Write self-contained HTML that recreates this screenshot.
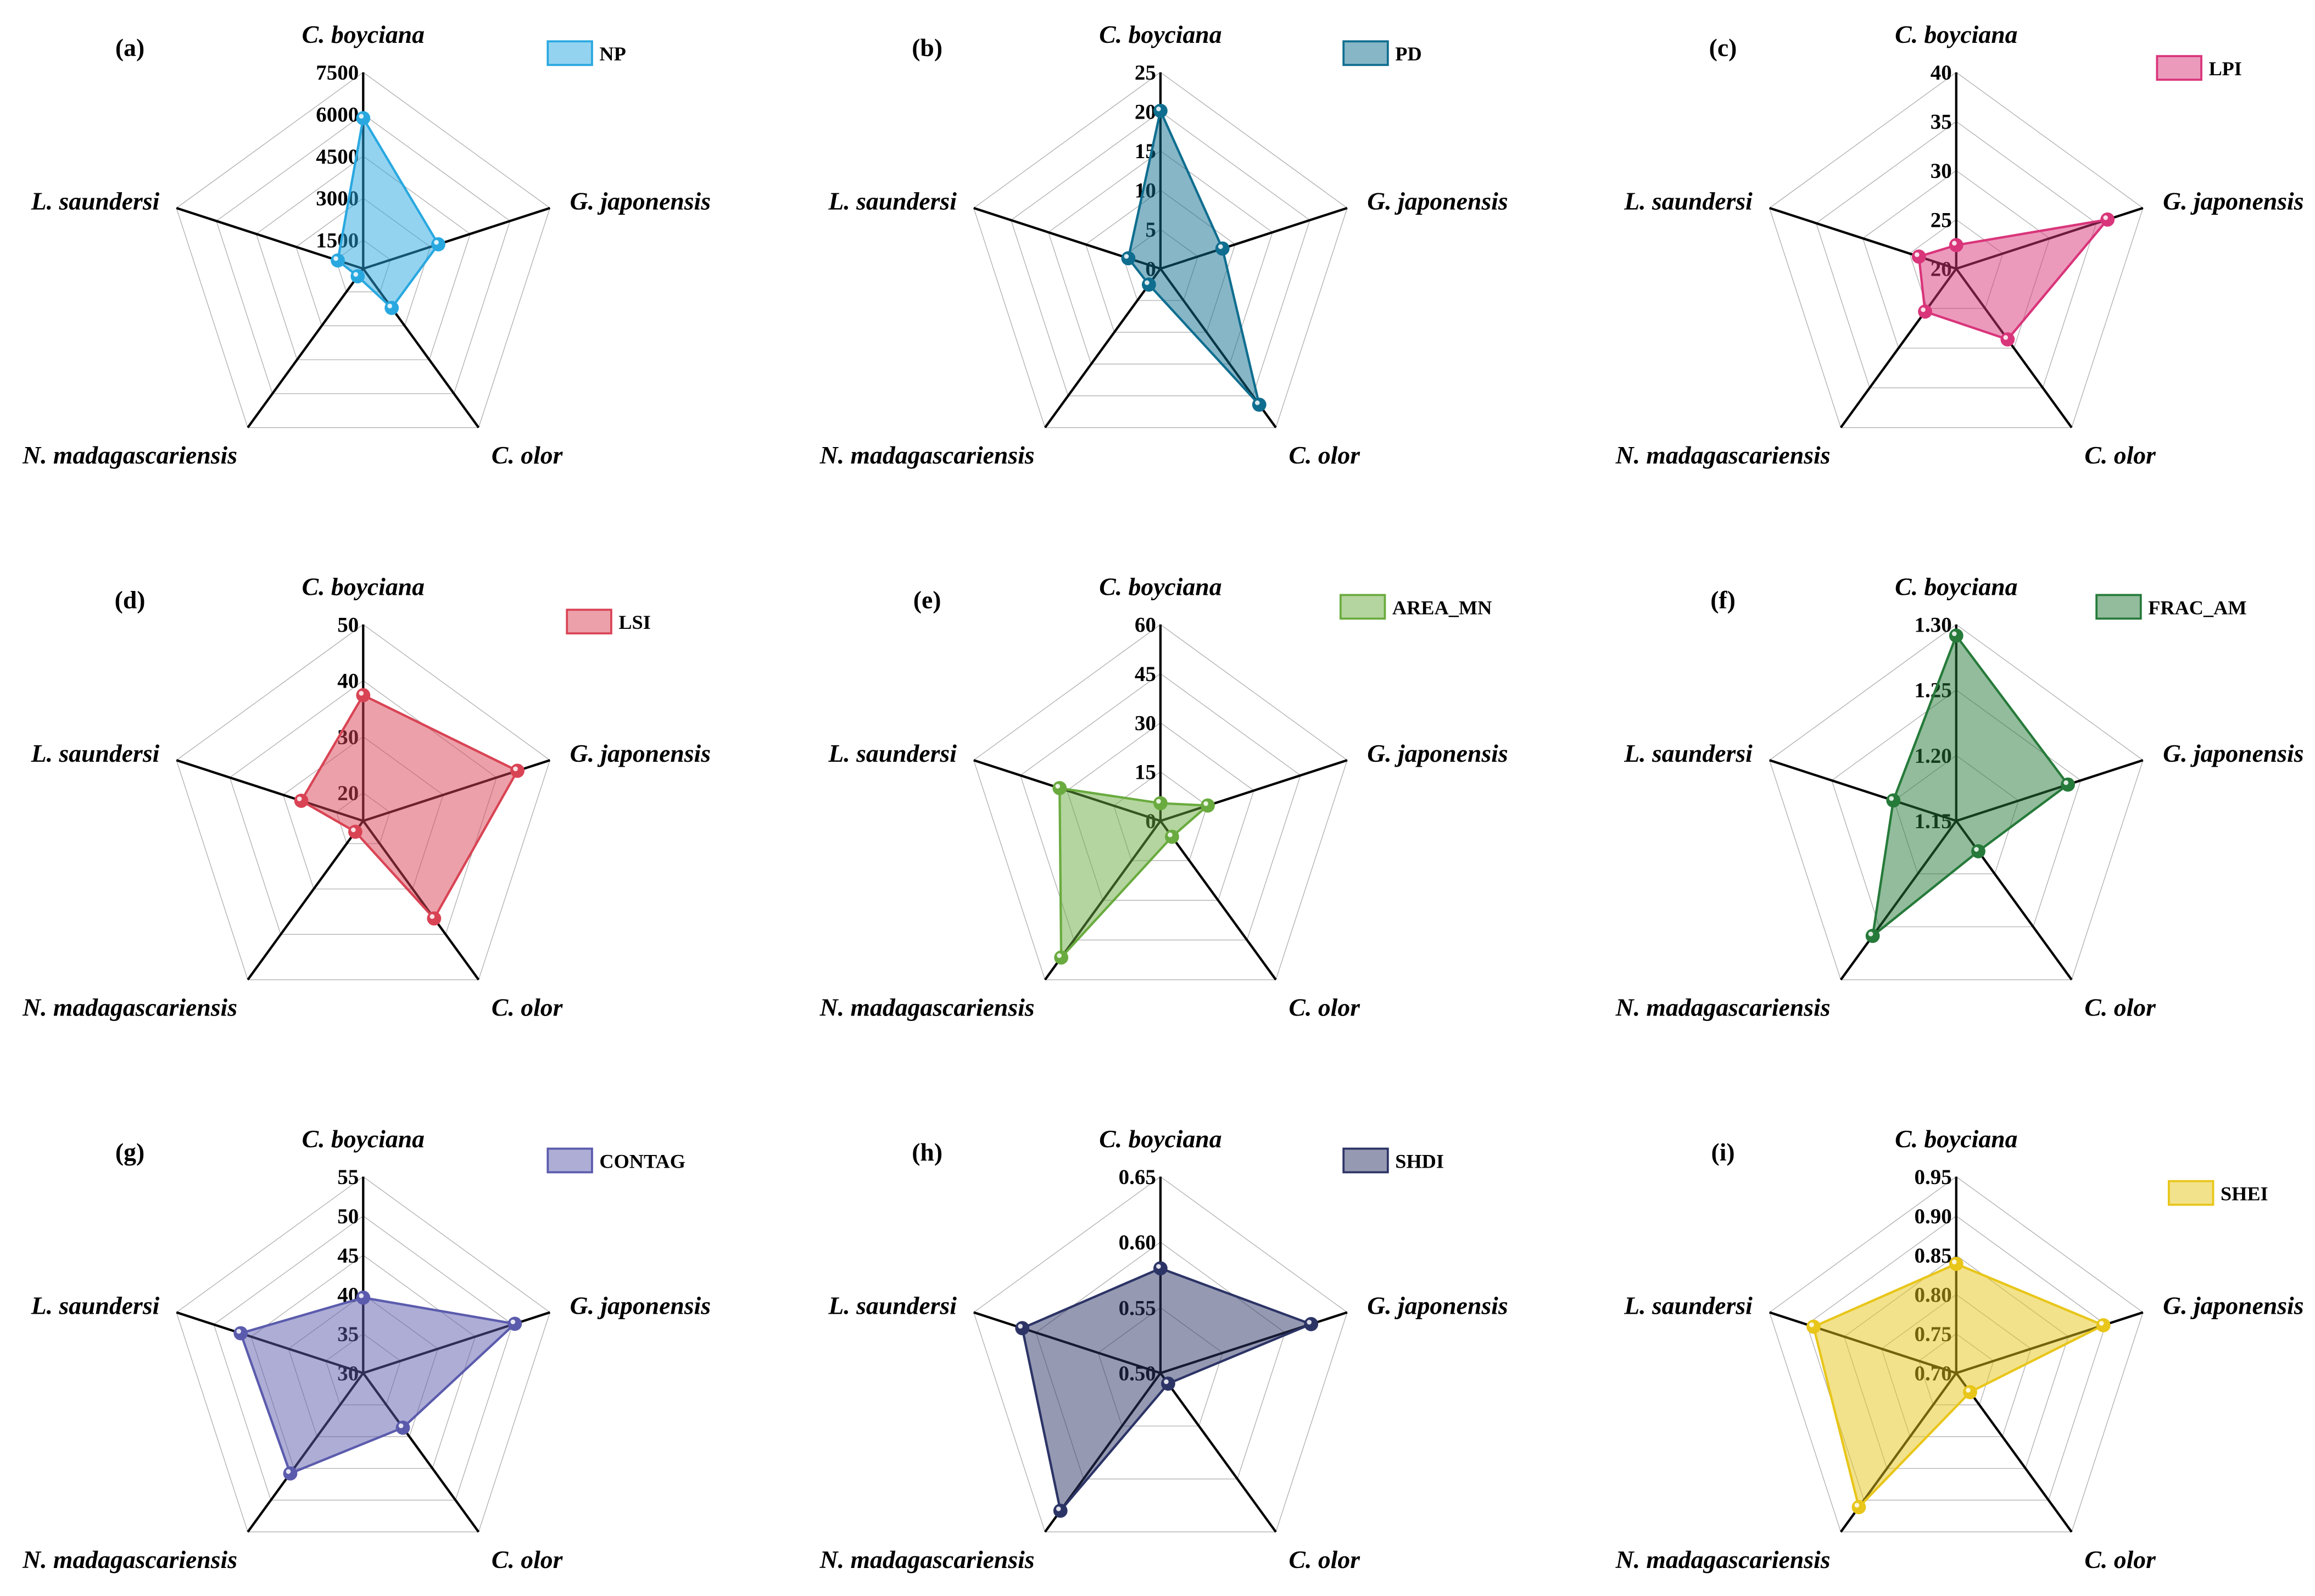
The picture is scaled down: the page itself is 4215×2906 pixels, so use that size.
<!DOCTYPE html>
<html><head><meta charset="utf-8"><style>
html,body{margin:0;padding:0;background:#fff;}
svg{display:block;}
text{font-family:"Liberation Serif","Times New Roman",serif;font-weight:bold;fill:#000;}
</style></head>
<body>
<svg id="chart" xmlns="http://www.w3.org/2000/svg" width="4215" height="2906" viewBox="0 0 1568 1081" preserveAspectRatio="none"></svg>
<script>
const categories = ["C. boyciana", "G. japonensis", "C. olor", "N. madagascariensis", "L. saundersi"];
const panelLabels = ["(a)", "(b)", "(c)", "(d)", "(e)", "(f)", "(g)", "(h)", "(i)"];
const seriesNames = ["NP", "PD", "LPI", "LSI", "AREA_MN", "FRAC_AM", "CONTAG", "SHDI", "SHEI"];
const valuesNP = [5860, 3300, 2210, 810, 1430];
const valuesPD = [20.1, 8.3, 21.4, 2.5, 4.3];
const valuesLPI = [22.4, 36.2, 28.9, 25.4, 24.0];
const valuesLSI = [37.4, 43.9, 36.5, 17.4, 26.6];
const valuesAREA = [5.4, 15.2, 6.0, 51.6, 32.4];
const valuesFRAC = [1.2915, 1.2397, 1.1787, 1.2586, 1.2005];
const valuesCONTAG = [39.6, 50.3, 38.6, 45.8, 46.4];
const valuesSHDI = [0.580, 0.621, 0.510, 0.630, 0.611];
const valuesSHEI = [0.839, 0.897, 0.730, 0.911, 0.891];
const ticksNP = ["1500", "3000", "4500", "6000", "7500"];
const ticksPD = ["0", "5", "10", "15", "20", "25"];
const ticksLPI = ["20", "25", "30", "35", "40"];
const ticksLSI = ["20", "30", "40", "50"];
const ticksAREA = ["0", "15", "30", "45", "60"];
const ticksFRAC = ["1.15", "1.20", "1.25", "1.30"];
const ticksCONTAG = ["30", "35", "40", "45", "50", "55"];
const ticksSHDI = ["0.50", "0.55", "0.60", "0.65"];
const ticksSHEI = ["0.70", "0.75", "0.80", "0.85", "0.90", "0.95"];
const axisMins = [475, 0, 20, 15, 0, 1.15, 30, 0.50, 0.70];

const allValues = [valuesNP, valuesPD, valuesLPI, valuesLSI, valuesAREA, valuesFRAC, valuesCONTAG, valuesSHDI, valuesSHEI];
const allTicks = [ticksNP, ticksPD, ticksLPI, ticksLSI, ticksAREA, ticksFRAC, ticksCONTAG, ticksSHDI, ticksSHEI];
const colors = ["#29a8e0", "#0f6e8f", "#d9357a", "#d94455", "#6aab3f", "#267a3a", "#5b5bad", "#2c3466", "#e8c61a"];
const legendPos = [[371,28],[910,28],[1461,38],[384,413],[908,403],[1420,403],[371,778],[910,778],[1469,800]];

const NS = "http://www.w3.org/2000/svg";
const svg = document.getElementById("chart");
const R = 133;
function mk(tag, attrs, parent) {
  const e = document.createElementNS(NS, tag);
  for (const k in attrs) e.setAttribute(k, attrs[k]);
  parent.appendChild(e);
  return e;
}
function ang(i) { return (-90 + 72 * i) * Math.PI / 180; }

for (let p = 0; p < 9; p++) {
  const cx = [246, 786, 1325][p % 3];
  const cy = [182, 556, 930][Math.floor(p / 3)];
  const ticks = allTicks[p];
  const vmin = axisMins[p];
  const vmax = parseFloat(ticks[ticks.length - 1]);
  const rScale = v => (v - vmin) / (vmax - vmin) * R;
  const pt = (i, r) => [cx + r * Math.cos(ang(i)), cy + r * Math.sin(ang(i))];
  const color = colors[p];

  const g = mk("g", {}, svg);
  
  

  ticks.forEach(t => {
    const r = rScale(parseFloat(t));
    if (r < 0.5) return;
    const pts = [0,1,2,3,4].map(i => pt(i, r).join(",")).join(" ");
    const poly = mk("polygon", {points: pts, fill: "none", stroke: "#b0b0b0", "stroke-width": 0.5}, g);
    
    
  });
  for (let i = 0; i < 5; i++) {
    const e = pt(i, R);
    const ln = mk("line", {x1: cx, y1: cy, x2: e[0], y2: e[1], stroke: "#000", "stroke-width": 1.6}, g);
    
    
  }
  ticks.forEach(t => {
    const r = rScale(parseFloat(t));
    const tx = mk("text", {x: cx - 3, y: cy - r + 5, "text-anchor": "end", "font-size": 14.5}, g);
    tx.textContent = t;
    
    
  });
  const vals = allValues[p];
  const sp = vals.map((v, i) => pt(i, rScale(v)));
  const area = mk("polygon", {points: sp.map(q => q.join(",")).join(" "), fill: color, "fill-opacity": 0.5, stroke: color, "stroke-width": 1.6}, g);
  
  
  sp.forEach(q => {
    const c = mk("circle", {cx: q[0], cy: q[1], r: 4.8, fill: color}, g);
    
    
    const h = mk("circle", {cx: q[0] - 1.3, cy: q[1] - 1.3, r: 1.6, fill: "#fff", "fill-opacity": 0.85}, g);
    
    
  });
  const labs = [
    [cx, cy - 153, "middle"],
    [cx + 140, cy - 40, "start"],
    [cx + 111, cy + 132, "middle"],
    [cx - 158, cy + 132, "middle"],
    [cx - 138, cy - 40, "end"]
  ];
  labs.forEach((l, i) => {
    const tx = mk("text", {x: l[0], y: l[1], "text-anchor": l[2], "font-size": 17, "font-style": "italic"}, g);
    tx.textContent = categories[i];
    
    
  });
  const pl = mk("text", {x: cx - 158, y: cy - 144, "text-anchor": "middle", "font-size": 17}, g);
  pl.textContent = panelLabels[p];
  
  
  const lp = legendPos[p];
  const lb = mk("rect", {x: lp[0], y: lp[1], width: 30, height: 16, fill: color, "fill-opacity": 0.5, stroke: color, "stroke-width": 1.4}, g);
  
  
  const lt = mk("text", {x: lp[0] + 35, y: lp[1] + 13, "font-size": 13.5}, g);
  lt.textContent = seriesNames[p];
  
  
}
</script>
</body></html>
